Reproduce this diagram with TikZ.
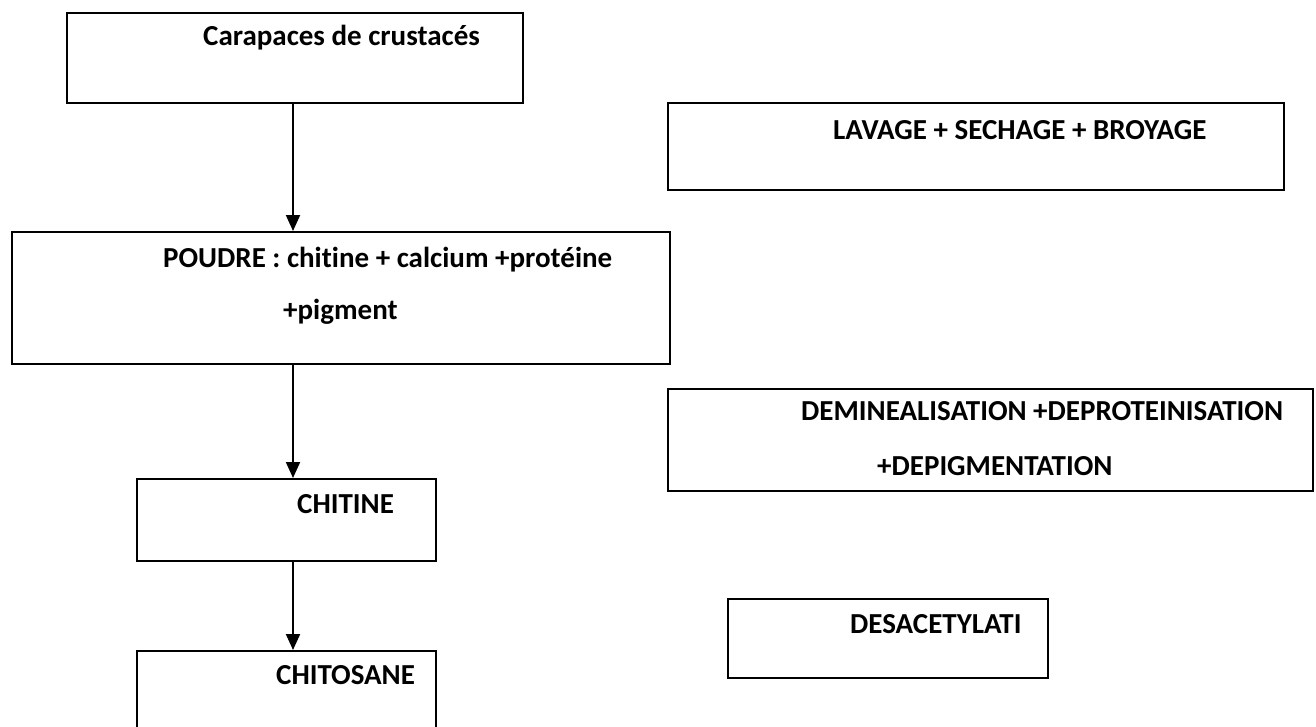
\documentclass[tikz,border=0pt]{standalone}
\usepackage{fontspec}
\setmainfont{Carlito}[Ligatures=NoCommon]
\usetikzlibrary{arrows.meta}
\tikzset{
  box/.style={draw, line width=2pt, rectangle, inner sep=0pt},
  txt/.style={anchor=west, inner sep=0pt, text height=0.64em, text depth=0pt,
    font=\fontsize{29}{35}\selectfont\bfseries},
  arr/.style={line width=2pt, -{Triangle[width=14pt,length=16pt]}}
}
\begin{document}
\begin{tikzpicture}[x=1pt,y=-1pt]
        \useasboundingbox (0,0) rectangle (1316,726);
        \node[box, minimum width=456, minimum height=90] (carap) at (295,58) {};
        \node[box, minimum width=658, minimum height=132] (poudre) at (341,298) {};
        \node[box, minimum width=299, minimum height=82] (chitine) at (286.5,520) {};
        \node[box, minimum width=299, minimum height=120] (chitosane) at (286.5,711) {};
        \node[box, minimum width=616, minimum height=87] (lavage) at (976,146.5) {};
        \node[box, minimum width=645, minimum height=102] (demin) at (990.5,440) {};
        \node[box, minimum width=320, minimum height=79] (desac) at (888,638.5) {};
        \node[txt] (carapT) at (203,42) {Carapaces de crustacés};
        \node[txt] (poudreT) at (163,264) {POUDRE : chitine + calcium +protéine};
        \node[txt] (poudreU) at (283,316) {+pigment};
        \node[txt] (chitineT) at (297,510) {CHITINE};
        \node[txt] (chitosaneT) at (276,681) {CHITOSANE};
        \node[txt] (lavageT) at (833,136) {LAVAGE + SECHAGE + BROYAGE};
        \node[txt] (deminT) at (801,417) {DEMINEALISATION +DEPROTEINISATION};
        \node[txt] (deminU) at (877,472) {+DEPIGMENTATION};
        \node[txt] (desacT) at (850,630) {DESACETYLATI};
        \coordinate (axis) at (293,0);
        \draw[arr] (carap.south -| axis) -- (poudre.north -| axis);
        \draw[arr] (poudre.south -| axis) -- (chitine.north -| axis);
        \draw[arr] (chitine.south -| axis) -- (chitosane.north -| axis);
\end{tikzpicture}
\end{document}
